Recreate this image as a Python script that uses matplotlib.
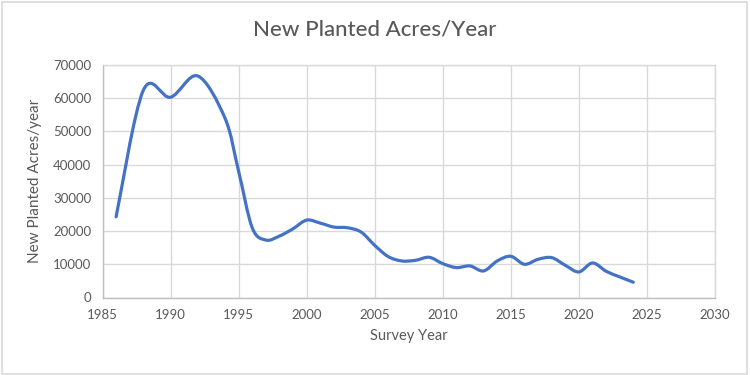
import numpy as np
import matplotlib
matplotlib.use('Agg')
import matplotlib.pyplot as plt
from matplotlib.path import Path
from matplotlib.patches import PathPatch, Rectangle

plt.rcParams['font.family'] = ['Lato', 'DejaVu Sans']

years = [1986, 1988, 1990, 1992, 1994, 1995,
         1996, 1997, 1998, 1999, 2000, 2001, 2002, 2003, 2004, 2005,
         2006, 2007, 2008, 2009, 2010, 2011, 2012, 2013, 2014, 2015,
         2016, 2017, 2018, 2019, 2020, 2021, 2022, 2023, 2024]
acres = [24300, 62400, 60300, 66700, 54000, 38000,
         21000, 17300, 18500, 20700, 23300, 22400, 21200, 21000, 19700, 15700,
         12300, 11000, 11200, 12100, 10200, 9000, 9500, 8000, 11000, 12400,
         10000, 11500, 12000, 9700, 7700, 10400, 7900, 6200, 4600]

title = 'New Planted Acres/Year'
xlabel = 'Survey Year'
ylabel = 'New Planted Acres/year'
xticks = [1985, 1990, 1995, 2000, 2005, 2010, 2015, 2020, 2025, 2030]
yticks = [0, 10000, 20000, 30000, 40000, 50000, 60000, 70000]

grey = '#595959'
grid = '#d9d9d9'
blue = '#4472c4'


def smooth_path(x, y):
    # excel style smoothed line: bezier segments through each point
    p = np.column_stack([x, y]).astype(float)
    n = len(p)
    verts = [p[0]]
    codes = [Path.MOVETO]
    for i in range(n - 1):
        p0 = p[i - 1] if i > 0 else p[i]
        p3 = p[i + 2] if i + 2 < n else p[i + 1]
        c1 = p[i] + (p[i + 1] - p0) / 6.0
        c2 = p[i + 1] - (p3 - p[i]) / 6.0
        verts += [c1, c2, p[i + 1]]
        codes += [Path.CURVE4] * 3
    return Path(verts, codes)


fig = plt.figure(figsize=(7.5, 3.75), dpi=100)
ax = fig.add_axes([102.5 / 750, 1 - 297.5 / 375, 612.5 / 750, 232.5 / 375])

ax.add_patch(PathPatch(smooth_path(years, acres), facecolor='none',
                       edgecolor=blue, lw=2.3, capstyle='round',
                       joinstyle='round', zorder=3))

ax.set_xlim(1985, 2030)
ax.set_ylim(0, 70000)
ax.set_xticks(xticks)
ax.set_yticks(yticks)
ax.grid(True, color=grid, lw=1.0)
ax.set_axisbelow(True)
for s in ax.spines.values():
    s.set_color(grid)
    s.set_linewidth(1.0)
ax.spines['bottom'].set_color('#bfbfbf')
ax.spines['left'].set_color('#bfbfbf')
ax.tick_params(length=0, labelsize=9.5, labelcolor=grey, pad=8)

ax.set_xlabel(xlabel, fontsize=10.5, color=grey, labelpad=6)
ax.set_ylabel(ylabel, fontsize=11, color=grey, labelpad=8)
fig.text(0.5, 1 - 30 / 375, title, ha='center', va='center',
         fontsize=16, color=grey, fontweight='medium')

fig.patches.append(Rectangle((0.002, 0.003), 0.994, 0.992, transform=fig.transFigure,
                             fill=False, edgecolor=grid, lw=1.2))

fig.savefig('out.png', dpi=100)
